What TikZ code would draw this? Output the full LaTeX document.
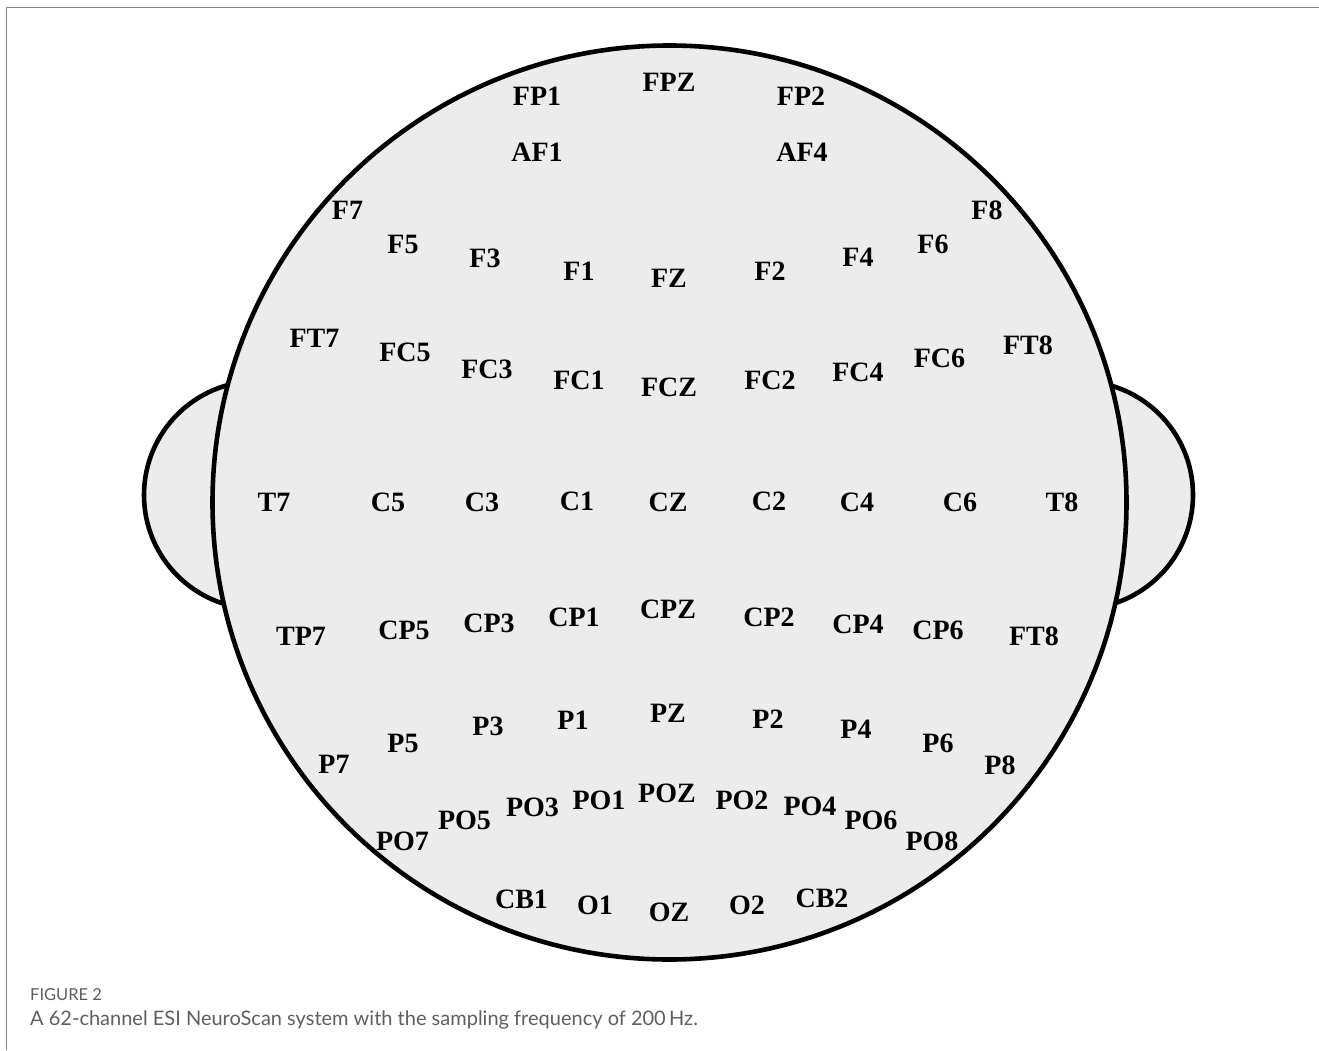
\documentclass[tikz,border=0pt]{standalone}
\usepackage{fontspec}
\setmainfont{Liberation Serif}
\newfontfamily\capfont{Lato}
\definecolor{headfill}{RGB}{236,236,236}
\definecolor{framegray}{RGB}{135,135,135}
\definecolor{capgray}{RGB}{95,95,95}
\begin{document}
\begin{tikzpicture}[x=1pt,y=-1pt,
  outline/.style={draw=black,line width=4.6pt,fill=headfill},
  elec/.style={inner sep=0pt,font=\fontsize{28}{28}\selectfont\bfseries}]
\useasboundingbox (0,0) rectangle (1319,1050);
\fill[white] (0,0) rectangle (1319,1050);
% frame
\draw[framegray,line width=1.6pt] (6.5,1050) -- (6.5,7.5) -- (1319,7.5);
% ears
\draw[outline] (258,495) circle[radius=114];
\draw[outline] (1079,495) circle[radius=114];
% head
\draw[outline] (669.5,502.5) circle[radius=457];
% electrodes
\node[elec] (FP1) at (537,96) {FP1};
\node[elec] (FPZ) at (669,82) {FPZ};
\node[elec] (FP2) at (801,96) {FP2};
\node[elec] (AF1) at (537,152.5) {AF1};
\node[elec] (AF4) at (802,152.5) {AF4};
\node[elec] (F7) at (347.5,210) {F7};
\node[elec] (F5) at (403,244) {F5};
\node[elec] (F3) at (485,258) {F3};
\node[elec] (F1) at (579,271) {F1};
\node[elec] (FZ) at (669,278) {FZ};
\node[elec] (F2) at (770,271) {F2};
\node[elec] (F4) at (858,257) {F4};
\node[elec] (F6) at (933,244) {F6};
\node[elec] (F8) at (987,210) {F8};
\node[elec] (FT7) at (314.5,338) {FT7};
\node[elec] (FC5) at (405,352) {FC5};
\node[elec] (FC3) at (487,369.5) {FC3};
\node[elec] (FC1) at (579,380) {FC1};
\node[elec] (FCZ) at (669,387) {FCZ};
\node[elec] (FC2) at (770,380) {FC2};
\node[elec] (FC4) at (858,372.5) {FC4};
\node[elec] (FC6) at (939.5,358.5) {FC6};
\node[elec] (FT8) at (1028,345) {FT8};
\node[elec] (T7) at (274,502) {T7};
\node[elec] (C5) at (388,502) {C5};
\node[elec] (C3) at (482,502) {C3};
\node[elec] (C1) at (577,501) {C1};
\node[elec] (CZ) at (668,502) {CZ};
\node[elec] (C2) at (769,501) {C2};
\node[elec] (C4) at (857,502) {C4};
\node[elec] (C6) at (960,502) {C6};
\node[elec] (T8) at (1062,502) {T8};
\node[elec] (TP7) at (301,636) {TP7};
\node[elec] (CP5) at (404,630) {CP5};
\node[elec] (CP3) at (489,623) {CP3};
\node[elec] (CP1) at (574,617) {CP1};
\node[elec] (CPZ) at (668,609) {CPZ};
\node[elec] (CP2) at (769,617) {CP2};
\node[elec] (CP4) at (858,624) {CP4};
\node[elec] (CP6) at (938,630) {CP6};
\node[elec] (FT8b) at (1034,636) {FT8};
\node[elec] (P7) at (334,764.5) {P7};
\node[elec] (P5) at (403,743) {P5};
\node[elec] (P3) at (488,726) {P3};
\node[elec] (P1) at (573,720) {P1};
\node[elec] (PZ) at (668,713.5) {PZ};
\node[elec] (P2) at (768,719) {P2};
\node[elec] (P4) at (856,729) {P4};
\node[elec] (P6) at (938,743) {P6};
\node[elec] (P8) at (1000,765) {P8};
\node[elec] (PO7) at (402.5,841) {PO7};
\node[elec] (PO5) at (464.5,820) {PO5};
\node[elec] (PO3) at (532.5,807) {PO3};
\node[elec] (PO1) at (599,800) {PO1};
\node[elec] (POZ) at (667,793) {POZ};
\node[elec] (PO2) at (742,800) {PO2};
\node[elec] (PO4) at (810,806) {PO4};
\node[elec] (PO6) at (871,820) {PO6};
\node[elec] (PO8) at (932,841) {PO8};
\node[elec] (CB1) at (521.5,899) {CB1};
\node[elec] (O1) at (595,905) {O1};
\node[elec] (OZ) at (669,912) {OZ};
\node[elec] (O2) at (747,905) {O2};
\node[elec] (CB2) at (822,898) {CB2};
% caption
\node[anchor=base west,inner sep=0pt,text=capgray,font=\capfont\fontsize{16.5}{16.5}\selectfont] (figlab) at (30,1000) {FIGURE 2};
\node[anchor=base west,inner sep=0pt,text=capgray,font=\capfont\fontsize{20}{20}\selectfont] (captext) at (30,1025) {A 62-channel ESI NeuroScan system with the sampling frequency of 200\,Hz.};
\end{tikzpicture}
\end{document}
